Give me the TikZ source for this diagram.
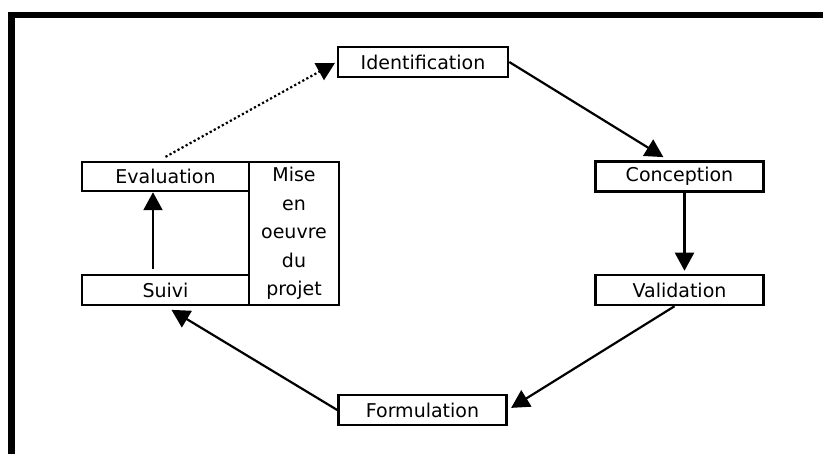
\documentclass[tikz,border=0pt]{standalone}
\usepackage{fontspec}
\setmainfont{DejaVu Sans}
\usetikzlibrary{arrows.meta}

\begin{document}
\begin{tikzpicture}[x=1pt, y=-1pt, >={Triangle[length=18pt,width=19pt]},
  phase/.style={draw, rectangle, line width=2.5pt, inner sep=0pt, minimum height=30pt,
    minimum width=168pt, font=\fontsize{19}{28.5}\selectfont},
  link/.style={->, line width=2.2pt}]
\useasboundingbox (0,0) rectangle (823,454);

% cadre
\draw[line width=6.5pt] (11.5,454) -- (11.5,15) -- (823,15);

\node[phase, minimum width=170pt] (ident) at (423,62) {Identification};
\node[phase] (concep) at (679.5,176.5) {Conception};
\node[phase] (valid) at (679.5,290) {Validation};
\node[phase] (formu) at (422.5,410) {Formulation};
\node[phase, minimum width=167pt, minimum height=29pt] (evalu) at (165.5,176.5) {Evaluation};
\node[phase, minimum width=167pt] (suivi) at (165.5,290) {Suivi};
\node[phase, minimum width=90pt, minimum height=143pt, align=center] (mise) at (294,233.5)
  {Mise\\en\\oeuvre\\du\\projet};

\draw[link, dash pattern=on 2.2pt off 2.4pt, shorten <=8pt, shorten >=2pt]
  ([xshift=-7pt]evalu.north) -- (ident.west);
\draw[link, shorten >=6pt] (ident.east) -- ([xshift=-11pt]concep.north);
\draw[link, shorten >=3pt] ([xshift=5pt]concep.south) -- ([xshift=5pt]valid.north);
\draw[link, shorten >=4pt] ([xshift=-5pt]valid.south) -- (formu.east);
\draw[link, shorten >=7pt] (formu.west) -- (suivi.south);
\draw[link, shorten <=5pt] ([xshift=-12.5pt]suivi.north) -- ([xshift=-12.5pt]evalu.south);
\end{tikzpicture}
\end{document}
